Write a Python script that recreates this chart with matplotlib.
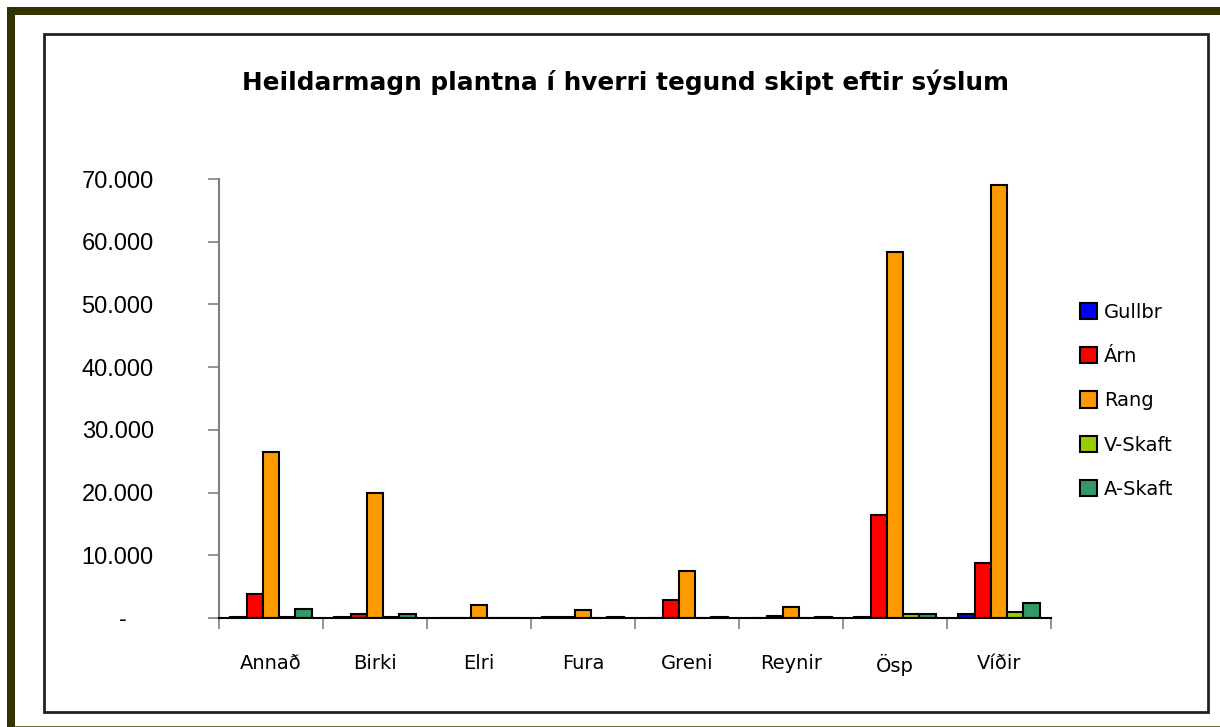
import matplotlib.pyplot as plt
from matplotlib.patches import Rectangle
import numpy as np

categories = ["Annað", "Birki", "Elri", "Fura", "Greni", "Reynir", "Ösp", "Víðir"]
series_names = ["Gullbr", "Árn", "Rang", "V-Skaft", "A-Skaft"]

gullbr = [150, 200, 0, 100, 50, 0, 200, 600]
arn = [3900, 700, 0, 100, 2900, 300, 16500, 8700]
rang = [26400, 20000, 2100, 1300, 7500, 1700, 58400, 69000]
v_skaft = [200, 100, 0, 0, 0, 0, 600, 900]
a_skaft = [1500, 600, 0, 100, 100, 200, 700, 2400]

colors = ["#0000FF", "#FF0000", "#FF9900", "#99CC00", "#339966"]
yticks = [0, 10000, 20000, 30000, 40000, 50000, 60000, 70000]
ytick_labels = ["-    ", "10.000", "20.000", "30.000", "40.000", "50.000", "60.000", "70.000"]

W, H = 1220, 727
fig = plt.figure(figsize=(W / 100, H / 100), dpi=100)


def fx(px):
    return px / W


def fy(py):
    return 1 - py / H


# outer olive frame
fig.patches.append(Rectangle((fx(7), fy(15)), fx(W), 8 / H, transform=fig.transFigure,
                             facecolor="#333300", edgecolor="none"))
fig.patches.append(Rectangle((fx(7), 0), 8 / W, fy(7), transform=fig.transFigure,
                             facecolor="#333300", edgecolor="none"))
fig.patches.append(Rectangle((fx(15), fy(727)), fx(W), 1.5 / H, transform=fig.transFigure,
                             facecolor="#6b6b3a", edgecolor="none"))
# inner chart box
fig.patches.append(Rectangle((fx(44), fy(712)), fx(1208) - fx(44), fy(34) - fy(712),
                             transform=fig.transFigure, facecolor="none",
                             edgecolor="#222222", linewidth=2))

ax = fig.add_axes([fx(219), fy(618), fx(1051) - fx(219), fy(179) - fy(618)])

data = [gullbr, arn, rang, v_skaft, a_skaft]
x = np.arange(len(categories))
bw = 0.156
for i, (name, vals) in enumerate(zip(series_names, data)):
    ax.bar(x + (i - 2) * bw, vals, bw, color=colors[i], edgecolor="black",
           linewidth=1.5, label=name)

ax.set_xlim(-0.5, len(categories) - 0.5)
ax.set_ylim(0, 70000)
ax.set_yticks(yticks)
ax.set_yticklabels(ytick_labels, fontfamily="Liberation Sans", fontsize=17)
ax.tick_params(axis="y", length=8, width=1.2, color="#808080", pad=39)

ax.set_xticks(x)
ax.set_xticklabels(categories, fontsize=14)
ax.tick_params(axis="x", length=0, pad=26)
ax.set_xticks(np.arange(len(categories) + 1) - 0.5, minor=True)
ax.tick_params(axis="x", which="minor", length=8, width=1.2, color="#808080")

for s in ["top", "right"]:
    ax.spines[s].set_visible(False)
ax.spines["left"].set_color("#808080")
ax.spines["left"].set_linewidth(1.5)
ax.spines["bottom"].set_color("black")
ax.spines["bottom"].set_linewidth(1.5)

fig.text(fx(626), fy(82), "Heildarmagn plantna í hverri tegund skipt eftir sýslum",
         ha="center", va="center", fontsize=17.8, fontweight="bold")

fig.legend(loc="upper left", bbox_to_anchor=(fx(1070), fy(293)), frameon=False,
           fontsize=14, handlelength=0.9, handleheight=0.9, handletextpad=0.35,
           labelspacing=1.3, borderpad=0)

fig.savefig("out.png", dpi=100)
